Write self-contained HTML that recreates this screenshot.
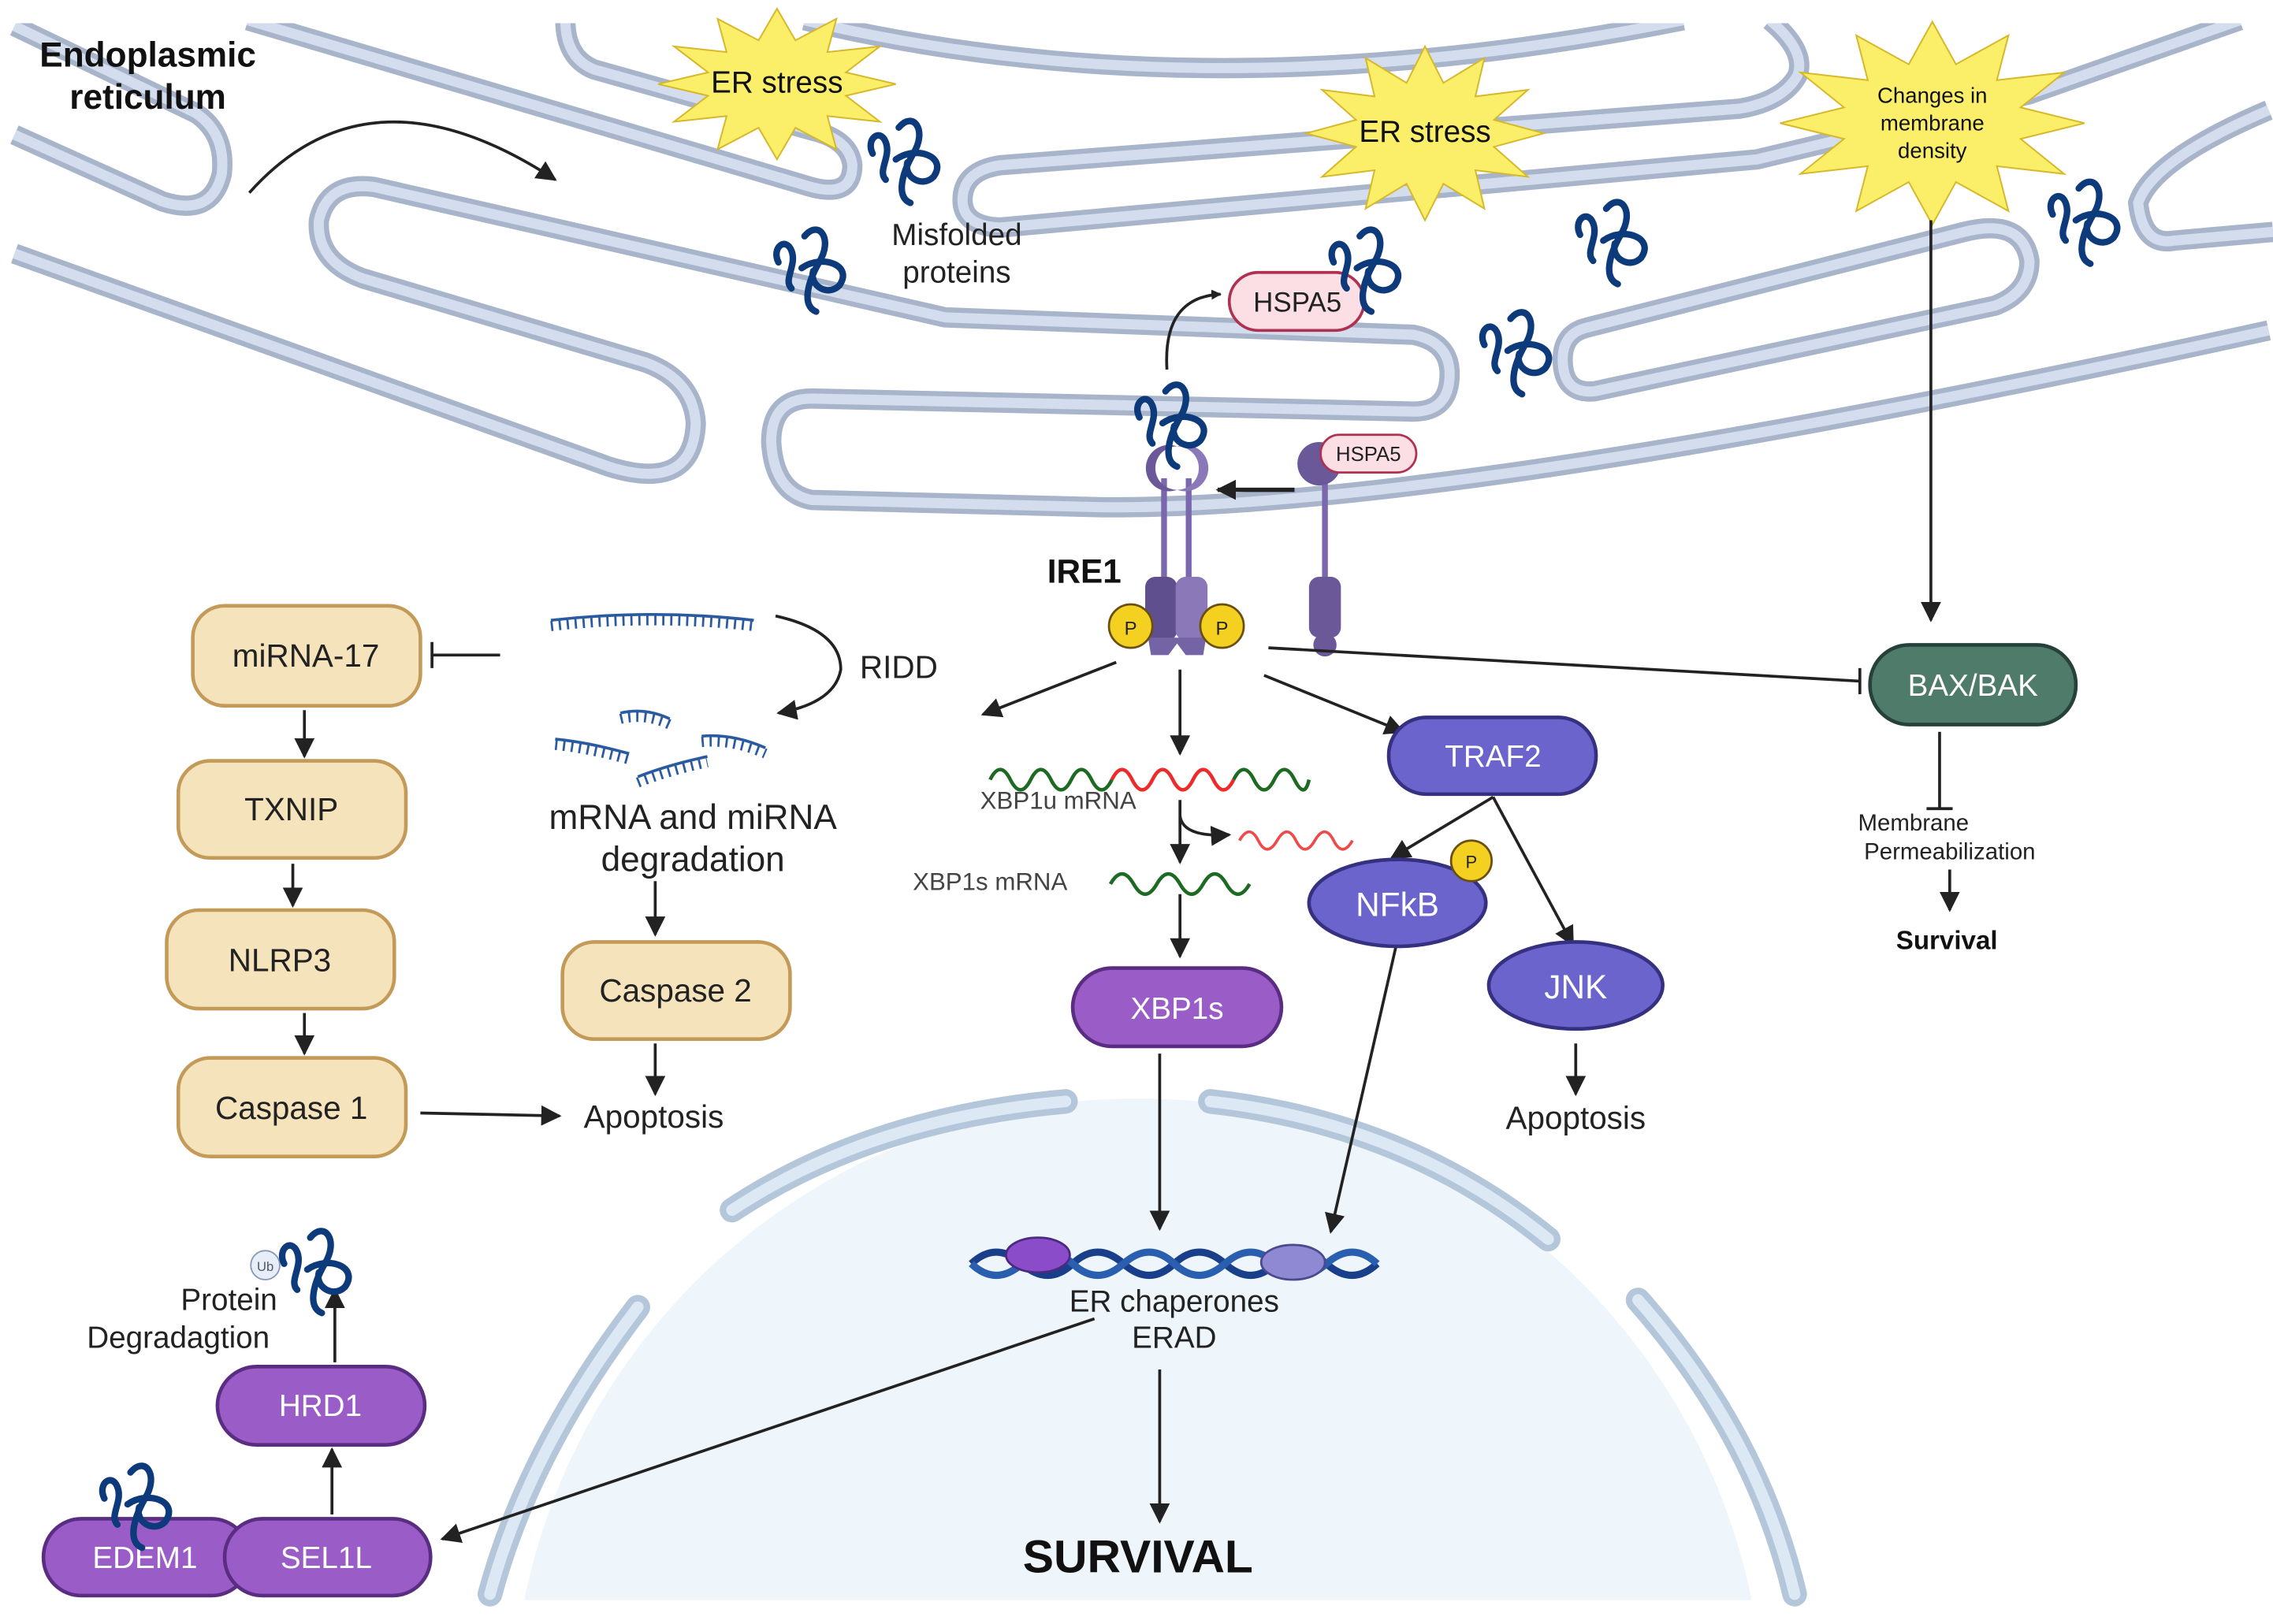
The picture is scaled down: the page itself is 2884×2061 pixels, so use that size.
<!DOCTYPE html>
<html><head><meta charset="utf-8"><style>
html,body{margin:0;padding:0;background:#fff;width:2884px;height:2061px;overflow:hidden}
svg{display:block;position:absolute;left:0;top:0}
text{font-family:"Liberation Sans",sans-serif}
</style></head><body>
<svg width="2884" height="2061" viewBox="0 0 1568 1120.6" preserveAspectRatio="none" xmlns="http://www.w3.org/2000/svg">
<defs>
<marker id="ah" viewBox="0 0 10 10" refX="9" refY="5" markerWidth="7" markerHeight="7" orient="auto-start-reverse" markerUnits="userSpaceOnUse"><path d="M0,0 L10,5 L0,10 z" fill="#222"/></marker>
<marker id="ab" viewBox="0 0 10 10" refX="9" refY="5" markerWidth="14" markerHeight="14" orient="auto" markerUnits="userSpaceOnUse"><path d="M0,0 L10,5 L0,10 z" fill="#222"/></marker>
<g id="prot" fill="none" stroke="#0d3a7a" stroke-width="4.5" stroke-linecap="round">
<path d="M4,26 C-1,16 9,8 13,18 C17,28 7,38 13,44"/>
<path d="M22,8 C32,-4 42,10 32,26 C24,40 20,56 30,60"/>
<path d="M20,30 C34,20 56,28 46,42 C38,50 25,42 28,32"/>
</g>
<polygon id="star" points="1,0 .58,.155 .866,.5 .424,.424 .5,.866 .155,.58 0,1 -.155,.58 -.5,.866 -.424,.424 -.866,.5 -.58,.155 -1,0 -.58,-.155 -.866,-.5 -.424,-.424 -.5,-.866 -.155,-.58 0,-1 .155,-.58 .5,-.866 .424,-.424 .866,-.5 .58,-.155" fill="#fbef6a" stroke="#d7b82a" stroke-width="2" vector-effect="non-scaling-stroke"/>
</defs>

<circle cx="785" cy="1190" r="432" fill="#eef5fb"/>
<rect x="0" y="1104" width="1568" height="20" fill="#fff"/>
<g fill="none" stroke-linecap="round">
<g stroke="#b4c6da" stroke-width="17">
<path d="M505,835 Q600,772 735,760"/><path d="M835,760 Q970,775 1068,855"/>
<path d="M440,902 Q365,1000 338,1100"/><path d="M1130,897 Q1212,990 1238,1100"/>
</g>
<g stroke="#dce8f4" stroke-width="8">
<path d="M505,835 Q600,772 735,760"/><path d="M835,760 Q970,775 1068,855"/>
<path d="M440,902 Q365,1000 338,1100"/><path d="M1130,897 Q1212,990 1238,1100"/>
</g>
</g>

<g fill="none" stroke-linejoin="round" stroke-linecap="butt">
<g stroke="#a7b4ca" stroke-width="14">
<path d="M10,18 L135,78 Q156,92 153,120 Q146,150 112,139 L10,93"/>
<path d="M171,14 L556,128 Q588,138 588,114 Q586,96 560,90 L410,48 Q390,40 390,14"/>
<path d="M555,14 Q830,80 1161,14"/>
<path d="M1221,14 Q1246,35 1240,52 Q1230,70 1200,75 L690,114 Q664,118 664,138 Q664,156 690,157 L1212,110 L1400,65 L1545,14"/>
<path d="M10,175 L420,322 Q478,340 480,292 Q478,262 445,250 L250,192 Q218,180 220,152 Q226,125 258,129 L652,219 L975,231 Q1000,236 1000,258 Q1000,284 975,284 L560,275 Q532,275 532,305 Q534,340 560,345 L760,350 Q1000,352 1565,228"/>
<path d="M1095,226 L1355,160 Q1395,150 1400,180 Q1400,202 1376,211 L1100,270 Q1078,272 1078,248 Q1078,230 1095,226 Z"/>
<path d="M1565,76 Q1485,110 1475,140 Q1478,170 1500,166 L1568,160"/>
</g>
<g stroke="#d3ddee" stroke-width="7">
<path d="M10,18 L135,78 Q156,92 153,120 Q146,150 112,139 L10,93"/>
<path d="M171,14 L556,128 Q588,138 588,114 Q586,96 560,90 L410,48 Q390,40 390,14"/>
<path d="M555,14 Q830,80 1161,14"/>
<path d="M1221,14 Q1246,35 1240,52 Q1230,70 1200,75 L690,114 Q664,118 664,138 Q664,156 690,157 L1212,110 L1400,65 L1545,14"/>
<path d="M10,175 L420,322 Q478,340 480,292 Q478,262 445,250 L250,192 Q218,180 220,152 Q226,125 258,129 L652,219 L975,231 Q1000,236 1000,258 Q1000,284 975,284 L560,275 Q532,275 532,305 Q534,340 560,345 L760,350 Q1000,352 1565,228"/>
<path d="M1095,226 L1355,160 Q1395,150 1400,180 Q1400,202 1376,211 L1100,270 Q1078,272 1078,248 Q1078,230 1095,226 Z"/>
<path d="M1565,76 Q1485,110 1475,140 Q1478,170 1500,166 L1568,160"/>
</g>
</g>
<rect x="0" y="0" width="1568" height="16" fill="#fff"/>

<use href="#star" transform="translate(536,58) scale(82,52)"/>
<use href="#star" transform="translate(983,92) scale(82,60)"/>
<use href="#star" transform="translate(1333,85) scale(105,70)"/>
<text x="536" y="64" font-size="21" text-anchor="middle" fill="#111">ER stress</text>
<text x="983" y="98" font-size="21" text-anchor="middle" fill="#111">ER stress</text>
<text x="1333" y="71" font-size="15" text-anchor="middle" fill="#111">Changes in</text>
<text x="1333" y="90" font-size="15" text-anchor="middle" fill="#111">membrane</text>
<text x="1333" y="109" font-size="15" text-anchor="middle" fill="#111">density</text>

<text x="102" y="46" font-size="24" font-weight="bold" text-anchor="middle" fill="#111">Endoplasmic</text>
<text x="102" y="75" font-size="24" font-weight="bold" text-anchor="middle" fill="#111">reticulum</text>
<path d="M172,133 Q255,40 383,124" fill="none" stroke="#222" stroke-width="2" marker-end="url(#ab)"/>

<use href="#prot" x="598" y="80"/>
<use href="#prot" x="533" y="155"/>
<use href="#prot" x="1086" y="136"/>
<use href="#prot" x="1020" y="212"/>
<use href="#prot" x="1412" y="122"/>
<text x="660" y="169" font-size="21" text-anchor="middle" fill="#222">Misfolded</text>
<text x="660" y="195" font-size="21" text-anchor="middle" fill="#222">proteins</text>

<path d="M805,255 Q802,205 842,203" fill="none" stroke="#222" stroke-width="2" marker-end="url(#ah)"/>
<rect x="848" y="188" width="93" height="40" rx="20" fill="#fbdfe5" stroke="#b03050" stroke-width="2"/>
<text x="895" y="215" font-size="19" text-anchor="middle" fill="#222">HSPA5</text>
<use href="#prot" x="916" y="155"/>

<g fill="#7a67ad">
<rect x="801" y="330" width="4" height="75"/><rect x="818" y="330" width="4" height="75"/><rect x="912" y="330" width="4" height="75"/>
<path d="M812,308 A16,16 0 1,0 812,338 A10,10 0 0,1 812,308Z" fill="#6a5898"/>
<path d="M812,308 A16,16 0 1,1 812,338 A10,10 0 0,0 812,308Z" fill="#8a78b8"/>
<circle cx="910" cy="320" r="15" fill="#6a5898"/>
<rect x="790" y="398" width="22" height="44" rx="7" fill="#5f4f8f"/>
<rect x="811" y="398" width="22" height="44" rx="7" fill="#8a78b8"/>
<path d="M792,440 L832,440 L830,452 L818,452 L812,444 L806,452 L794,452Z" fill="#7464a6"/>
<rect x="903" y="398" width="22" height="42" rx="7" fill="#6a5898"/>
<circle cx="914" cy="445" r="8" fill="#6a5898"/>
</g>
<use href="#prot" x="782" y="262"/>
<rect x="911" y="300" width="66" height="26" rx="13" fill="#fbdfe5" stroke="#b03050" stroke-width="1.5"/>
<text x="944" y="318" font-size="14" text-anchor="middle" fill="#222">HSPA5</text>
<path d="M893,338 L840,338" stroke="#222" stroke-width="3" marker-end="url(#ab)"/>
<circle cx="780" cy="432" r="15" fill="#f4d020" stroke="#6a5010" stroke-width="1.5"/>
<circle cx="843" cy="432" r="15" fill="#f4d020" stroke="#6a5010" stroke-width="1.5"/>
<text x="780" y="438" font-size="13" text-anchor="middle" fill="#222">P</text>
<text x="843" y="438" font-size="13" text-anchor="middle" fill="#222">P</text>
<text x="748" y="402" font-size="23" font-weight="bold" text-anchor="middle" fill="#111">IRE1</text>

<g stroke="#222" stroke-width="2" fill="none">
<path d="M770,457 L678,493" marker-end="url(#ab)"/>
<path d="M814,462 L814,520" marker-end="url(#ab)"/>
<path d="M872,466 L968,505" marker-end="url(#ab)"/>
<path d="M875,447 L1283,470"/><path d="M1283,461 L1283,479"/>
<path d="M1332,152 L1332,428" marker-end="url(#ab)"/>
<path d="M1338,505 L1338,558"/><path d="M1329,558 L1347,558"/>
<path d="M1345,600 L1345,628" marker-end="url(#ab)"/>
<path d="M345,452 L298,452"/><path d="M298,443 L298,461"/>
<path d="M535,425 Q580,435 580,462 Q576,485 537,492" marker-end="url(#ab)"/>
<path d="M452,608 L452,645" marker-end="url(#ab)"/>
<path d="M452,720 L452,755" marker-end="url(#ab)"/>
<path d="M210,490 L210,522" marker-end="url(#ab)"/>
<path d="M202,596 L202,625" marker-end="url(#ab)"/>
<path d="M210,699 L210,727" marker-end="url(#ab)"/>
<path d="M290,768 L386,770" marker-end="url(#ab)"/>
<path d="M814,552 L814,595" marker-end="url(#ab)"/>
<path d="M814,563 Q816,578 848,576" marker-end="url(#ab)"/>
<path d="M814,617 L814,660" marker-end="url(#ab)"/>
<path d="M800,727 L800,848" marker-end="url(#ab)"/>
<path d="M1030,550 L960,592" marker-end="url(#ab)"/>
<path d="M1030,550 L1085,652" marker-end="url(#ab)"/>
<path d="M963,653 L918,850" marker-end="url(#ab)"/>
<path d="M1087,720 L1087,755" marker-end="url(#ab)"/>
<path d="M755,910 L305,1062" marker-end="url(#ab)"/>
<path d="M800,945 L800,1050" marker-end="url(#ab)"/>
<path d="M229,1045 L229,1000" marker-end="url(#ab)"/>
<path d="M231,940 L231,890" marker-end="url(#ab)"/>
</g>

<g fill="none" stroke="#2a5aa0">
<path d="M380,428 Q450,420 520,428" stroke-width="2"/>
<path d="M380,432 Q450,424 520,432" stroke-width="7" stroke-dasharray="1.5,4"/>
<path d="M428,492 Q445,488 462,496" stroke-width="2"/><path d="M428,496 Q445,492 462,500" stroke-width="7" stroke-dasharray="1.5,4"/>
<path d="M484,508 Q505,506 528,516" stroke-width="2"/><path d="M484,512 Q505,510 528,520" stroke-width="7" stroke-dasharray="1.5,4"/>
<path d="M383,510 Q405,512 434,520" stroke-width="2"/><path d="M383,514 Q405,516 434,524" stroke-width="7" stroke-dasharray="1.5,4"/>
<path d="M440,536 Q460,528 488,522" stroke-width="2"/><path d="M440,540 Q460,532 488,526" stroke-width="7" stroke-dasharray="1.5,4"/>
</g>
<text x="620" y="468" font-size="22" text-anchor="middle" fill="#222">RIDD</text>
<text x="478" y="572" font-size="24" text-anchor="middle" fill="#222">mRNA and miRNA</text>
<text x="478" y="601" font-size="24" text-anchor="middle" fill="#222">degradation</text>

<g fill="none" stroke-width="2.5">
<path d="M683,538 q7,-14 14,0 t14,0 t14,0 t14,0 t14,0 t14,0" stroke="#1d6a22"/>
<path d="M767,538 q7,-14 14,0 t14,0 t14,0 t14,0 t14,0 t14,0" stroke="#ee2a2a"/>
<path d="M851,538 q7,-14 14,0 t14,0 t14,0 t10,0" stroke="#1d6a22"/>
<path d="M855,580 q7,-12 13,0 t13,0 t13,0 t13,0 t13,0 t13,0" stroke="#ee4a4a" stroke-width="2"/>
<path d="M766,610 q8,-14 16,0 t16,0 t16,0 t16,0 t16,0 t16,0" stroke="#1d6a22"/>
</g>
<text x="730" y="558" font-size="17" text-anchor="middle" fill="#444">XBP1u mRNA</text>
<text x="683" y="614" font-size="17" text-anchor="middle" fill="#444">XBP1s mRNA</text>

<g fill="#f5e3bb" stroke="#c49a58" stroke-width="2.5">
<rect x="133" y="418" width="157" height="69" rx="22"/>
<rect x="123" y="525" width="157" height="67" rx="22"/>
<rect x="115" y="628" width="157" height="68" rx="22"/>
<rect x="123" y="730" width="157" height="68" rx="22"/>
<rect x="388" y="650" width="157" height="67" rx="22"/>
</g>
<g font-size="22" text-anchor="middle" fill="#222">
<text x="211" y="460">miRNA-17</text>
<text x="201" y="566">TXNIP</text>
<text x="193" y="670">NLRP3</text>
<text x="201" y="772">Caspase 1</text>
<text x="466" y="691">Caspase 2</text>
<text x="451" y="778">Apoptosis</text>
<text x="1087" y="779">Apoptosis</text>
</g>

<rect x="740" y="668" width="144" height="54" rx="27" fill="#9a5cc6" stroke="#5a2d82" stroke-width="2.5"/>
<text x="812" y="703" font-size="21" text-anchor="middle" fill="#fff">XBP1s</text>
<rect x="958" y="495" width="143" height="53" rx="26" fill="#6a64cc" stroke="#353180" stroke-width="2.5"/>
<text x="1030" y="529" font-size="21" text-anchor="middle" fill="#fff">TRAF2</text>
<ellipse cx="964" cy="623" rx="61" ry="30" fill="#6a64cc" stroke="#353180" stroke-width="2.5"/>
<text x="964" y="632" font-size="23" text-anchor="middle" fill="#fff">NFkB</text>
<circle cx="1015" cy="594" r="14" fill="#f4d020" stroke="#6a5010" stroke-width="1.5"/>
<text x="1015" y="599" font-size="12" text-anchor="middle" fill="#222">P</text>
<ellipse cx="1087" cy="680" rx="60" ry="30" fill="#6a64cc" stroke="#353180" stroke-width="2.5"/>
<text x="1087" y="689" font-size="23" text-anchor="middle" fill="#fff">JNK</text>
<rect x="1290" y="445" width="142" height="55" rx="27" fill="#4f7b6b" stroke="#25413a" stroke-width="2.5"/>
<text x="1361" y="480" font-size="21" text-anchor="middle" fill="#fff">BAX/BAK</text>
<text x="1320" y="573" font-size="16" text-anchor="middle" fill="#222">Membrane</text>
<text x="1345" y="593" font-size="16" text-anchor="middle" fill="#222">Permeabilization</text>
<text x="1343" y="655" font-size="18" font-weight="bold" text-anchor="middle" fill="#111">Survival</text>

<g fill="none" stroke="#1a3f8a" stroke-width="5">
<path d="M670,872 q17,-16 35,0 t35,0 t35,0 t35,0 t35,0 t35,0 t35,0 t35,0"/>
<path d="M670,872 q17,16 35,0 t35,0 t35,0 t35,0 t35,0 t35,0 t35,0 t35,0" stroke="#2a5fb0"/>
</g>
<ellipse cx="716" cy="866" rx="22" ry="12" fill="#8a4cc8" stroke="#4a2a80" stroke-width="1.5"/>
<ellipse cx="892" cy="871" rx="22" ry="12" fill="#8f88d2" stroke="#4a4a90" stroke-width="1.5"/>
<text x="810" y="905" font-size="21" text-anchor="middle" fill="#222">ER chaperones</text>
<text x="810" y="930" font-size="21" text-anchor="middle" fill="#222">ERAD</text>
<text x="785" y="1085" font-size="32" font-weight="bold" text-anchor="middle" fill="#111">SURVIVAL</text>

<rect x="150" y="943" width="143" height="54" rx="27" fill="#9a5cc6" stroke="#5a2d82" stroke-width="2.5"/>
<text x="221" y="977" font-size="21" text-anchor="middle" fill="#fff">HRD1</text>
<rect x="30" y="1048" width="142" height="53" rx="26" fill="#9a5cc6" stroke="#5a2d82" stroke-width="2.5"/>
<rect x="155" y="1048" width="142" height="53" rx="26" fill="#9a5cc6" stroke="#5a2d82" stroke-width="2.5"/>
<text x="100" y="1082" font-size="21" text-anchor="middle" fill="#fff">EDEM1</text>
<text x="225" y="1082" font-size="21" text-anchor="middle" fill="#fff">SEL1L</text>
<use href="#prot" x="68" y="1008"/>
<circle cx="183" cy="873" r="10" fill="#e8eef8" stroke="#8898b8" stroke-width="1"/>
<text x="183" y="877" font-size="9" text-anchor="middle" fill="#556">Ub</text>
<use href="#prot" x="192" y="846"/>
<text x="158" y="904" font-size="21" text-anchor="middle" fill="#222">Protein</text>
<text x="123" y="930" font-size="21" text-anchor="middle" fill="#222">Degradagtion</text>
</svg>
</body></html>
